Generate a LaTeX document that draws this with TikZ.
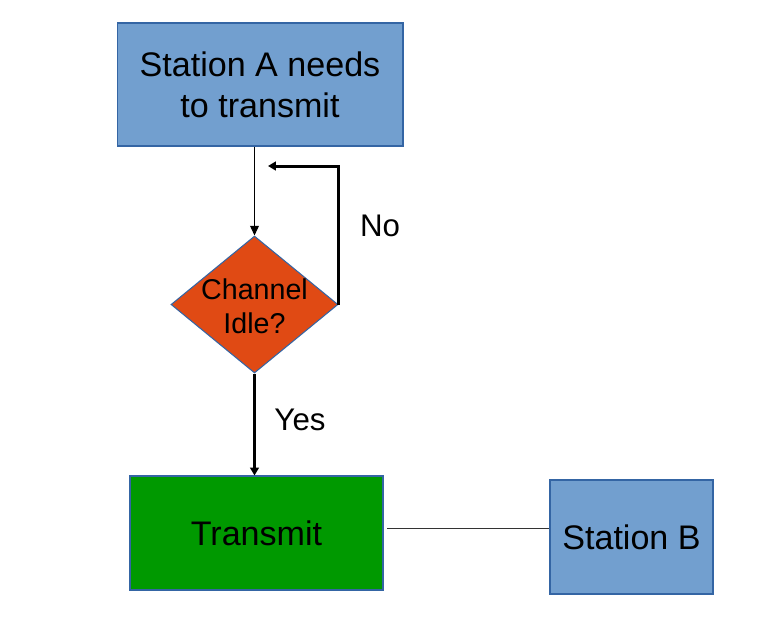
\documentclass[tikz,border=0pt]{standalone}
\usepackage{fontspec}
\setmainfont{Liberation Sans}
\usetikzlibrary{shapes.geometric,arrows.meta}
\definecolor{boxblue}{HTML}{729FCF}
\definecolor{edgeblue}{HTML}{3465A4}
\definecolor{decisionred}{HTML}{E04A14}
\definecolor{sendgreen}{HTML}{009900}
\begin{document}
\begin{tikzpicture}[x=0.02cm,y=-0.02cm,
  station/.style={draw=edgeblue, line width=0.6pt, fill=boxblue, inner sep=0pt, align=center,
    font=\fontsize{19.4}{23.4}\selectfont},
  decision/.style={draw=edgeblue, line width=0.6pt, fill=decisionred, diamond, inner sep=0pt,
    minimum width=3.34cm, minimum height=2.74cm},
  answer/.style={font=\fontsize{17.8}{21}\selectfont}]
\useasboundingbox (0,0) rectangle (765,627);
\node[station, minimum width=5.72cm, minimum height=2.46cm] (staA) at (260,84.5) {Station A needs\\to transmit};
\node[decision] (idle) at (254.5,304.5) {};
\node[align=center, font=\fontsize{16.3}{19.3}\selectfont] (idletext) at (254.5,306) {Channel\\Idle?};
\node[station, fill=sendgreen, minimum width=5.06cm, minimum height=2.28cm] (trans) at (256.5,533) {\raisebox{-1.7pt}{Transmit}};
\node[station, minimum width=3.26cm, minimum height=2.28cm] (staB) at (631.5,537) {\raisebox{-1.7pt}{Station B}};
\node[answer] (no) at (380,226) {No};
\node[answer] (yes) at (300,420) {Yes};
\coordinate (noend) at (268,166);
\path[draw,line width=0.6pt,-{Triangle[length=5.5pt,width=5pt]}] (idle.north |- staA.south) -- (idle.north);
\path[draw,line width=1.7pt,-{Triangle[length=4.5pt,width=5pt]}] (idle.east) |- (noend);
\path[draw,line width=1.7pt,-{Triangle[length=4.5pt,width=5pt]}] (idle.south) -- (idle.south |- trans.north);
\path[draw,line width=0.6pt,black!80,shorten <=2pt] ([yshift=2.3pt]trans.east) -- ([yshift=2.3pt]trans.east -| staB.west);
\end{tikzpicture}
\end{document}
